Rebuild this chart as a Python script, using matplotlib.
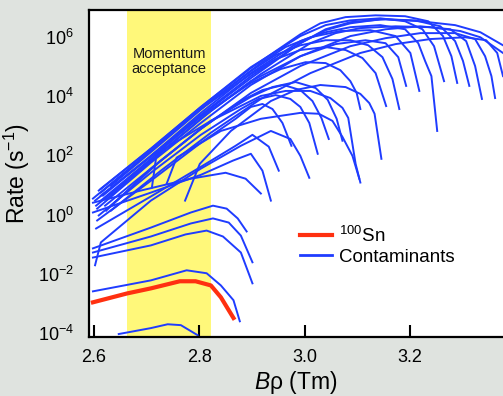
import numpy as np
import matplotlib
matplotlib.use('Agg')
import matplotlib.pyplot as plt

params = {
    'font.family': 'Liberation Sans',
    'mathtext.fontset': 'custom',
    'mathtext.rm': 'Liberation Sans',
    'mathtext.it': 'Liberation Sans:italic',
}
matplotlib.rcParams.update(params)

# ----- rate curves: B-rho (Tm) and log10 of rate (1/s) -----
sn100_brho = [2.598, 2.663, 2.708, 2.763, 2.793, 2.822, 2.841, 2.865]
sn100_lograte = [-2.96, -2.66, -2.49, -2.25, -2.25, -2.39, -2.79, -3.49]

contam_brho = [
    [2.647, 2.708, 2.740, 2.765, 2.797],
    [2.598, 2.708, 2.776, 2.814, 2.841, 2.865, 2.877],
    [2.598, 2.708, 2.774, 2.814, 2.845, 2.879, 2.901],
    [2.598, 2.708, 2.784, 2.826, 2.856, 2.879, 2.901],
    [2.598, 2.708, 2.784, 2.826, 2.852, 2.873, 2.890],
    [2.598, 2.689, 2.784, 2.850, 2.888, 2.917],
    [2.598, 2.708, 2.803, 2.864, 2.898, 2.920, 2.936],
    [2.604, 2.708, 2.803, 2.869, 2.901, 2.932, 2.951],
    [2.606, 2.708, 2.803, 2.869, 2.898, 2.920, 2.939, 2.958, 2.975],
    [2.602, 2.613, 2.708, 2.803, 2.879, 2.936, 2.973, 2.992, 3.009],
    [2.609, 2.708, 2.803, 2.879, 2.913, 2.945, 2.973, 2.992, 3.009, 3.025],
    [2.623, 2.708, 2.803, 2.879, 2.920, 2.960, 2.992, 3.015, 3.032, 3.046],
    [2.632, 2.727, 2.822, 2.898, 2.939, 2.983, 3.021, 3.044, 3.061, 3.072],
    [2.738, 2.757, 2.841, 2.917, 2.992, 3.027, 3.053, 3.072, 3.091, 3.104],
    [2.710, 2.719, 2.822, 2.917, 2.964, 3.011, 3.049, 3.072, 3.083, 3.097, 3.106],
    [2.613, 2.708, 2.803, 2.898, 2.955, 3.002, 3.040, 3.068, 3.087, 3.099, 3.106],
    [2.773, 2.801, 2.860, 2.936, 2.983, 3.030, 3.078, 3.106, 3.123, 3.133, 3.146],
    [2.598, 2.708, 2.803, 2.898, 2.945, 2.992, 3.040, 3.078, 3.110, 3.135, 3.155],
    [2.613, 2.708, 2.803, 2.898, 2.945, 2.992, 3.040, 3.087, 3.121, 3.148, 3.167, 3.180],
    [2.604, 2.708, 2.803, 2.898, 2.992, 3.059, 3.116, 3.154, 3.178, 3.193],
    [2.632, 2.727, 2.822, 2.917, 2.964, 3.011, 3.068, 3.125, 3.173, 3.201, 3.218],
    [2.617, 2.708, 2.803, 2.898, 2.992, 3.040, 3.087, 3.144, 3.191, 3.216, 3.229, 3.241, 3.252],
    [2.613, 2.708, 2.803, 2.898, 2.992, 3.040, 3.087, 3.144, 3.191, 3.224, 3.246, 3.265],
    [2.609, 2.708, 2.803, 2.898, 2.992, 3.030, 3.078, 3.135, 3.191, 3.235, 3.263, 3.279, 3.290],
    [2.602, 2.708, 2.803, 2.898, 2.992, 3.040, 3.087, 3.144, 3.210, 3.258, 3.286, 3.301, 3.313],
    [2.606, 2.708, 2.803, 2.898, 2.992, 3.087, 3.154, 3.220, 3.277, 3.307, 3.324, 3.337],
    [2.621, 2.708, 2.803, 2.898, 2.992, 3.087, 3.154, 3.220, 3.286, 3.324, 3.343, 3.355, 3.362],
    [2.632, 2.727, 2.822, 2.917, 3.011, 3.106, 3.173, 3.239, 3.305, 3.345, 3.366, 3.377],
    [2.613, 2.708, 2.803, 2.898, 2.992, 3.040, 3.087, 3.154, 3.220, 3.286, 3.334, 3.377],
    [2.625, 2.727, 2.822, 2.917, 3.011, 3.059, 3.106, 3.173, 3.239, 3.296, 3.334, 3.377],
]
contam_lograte = [
    [-4.03, -3.83, -3.70, -3.73, -4.07],
    [-2.59, -2.22, -1.88, -1.98, -2.39, -2.89, -3.60],
    [-1.45, -1.04, -0.67, -0.54, -0.74, -1.28, -2.32],
    [-1.28, -0.74, -0.30, -0.13, -0.27, -0.71, -1.61],
    [-1.14, -0.44, 0.07, 0.30, 0.20, -0.13, -0.57],
    [0.40, 0.81, 1.21, 1.41, 1.21, 0.71],
    [0.07, 0.74, 1.34, 1.82, 2.05, 1.48, 0.47],
    [-0.47, 0.61, 1.61, 2.32, 2.69, 2.29, 1.48],
    [-0.20, 1.14, 2.42, 3.23, 3.63, 3.73, 3.56, 3.09, 2.32],
    [-1.71, -0.94, 0.47, 1.55, 2.32, 2.82, 2.55, 1.98, 1.24],
    [-0.03, 1.41, 2.69, 3.56, 3.90, 4.03, 3.90, 3.63, 3.09, 2.05],
    [0.13, 1.55, 2.89, 3.83, 4.20, 4.37, 4.20, 3.83, 3.26, 2.55],
    [0.30, 1.82, 3.16, 3.97, 4.30, 4.47, 4.27, 3.87, 3.23, 2.49],
    [1.04, 1.92, 2.82, 3.23, 3.43, 3.40, 3.16, 2.62, 1.98, 1.21],
    [0.91, 2.05, 3.16, 4.00, 4.17, 4.17, 3.93, 3.60, 3.26, 1.71, 1.08],
    [0.64, 1.95, 3.30, 4.44, 4.91, 5.14, 5.11, 4.87, 4.50, 4.10, 3.56],
    [0.47, 1.71, 2.82, 3.83, 4.20, 4.37, 4.30, 4.07, 3.76, 3.40, 1.88],
    [0.54, 2.15, 3.56, 4.74, 5.24, 5.55, 5.65, 5.55, 5.28, 4.77, 3.66],
    [0.74, 2.15, 3.56, 4.84, 5.38, 5.71, 5.88, 5.88, 5.71, 5.31, 4.57, 3.56],
    [0.30, 1.82, 3.23, 4.50, 5.34, 5.75, 5.88, 5.78, 5.31, 4.34],
    [0.97, 2.39, 3.83, 5.11, 5.65, 5.98, 6.19, 6.22, 6.02, 5.45, 4.17],
    [0.64, 1.98, 3.43, 4.77, 5.85, 6.15, 6.32, 6.39, 6.25, 5.78, 5.18, 4.67, 2.82],
    [0.87, 2.22, 3.63, 4.97, 6.02, 6.39, 6.55, 6.62, 6.52, 6.25, 5.68, 4.50],
    [0.81, 2.22, 3.63, 4.94, 6.08, 6.45, 6.66, 6.72, 6.69, 6.52, 6.02, 5.34, 4.44],
    [0.47, 1.98, 3.36, 4.67, 5.78, 6.22, 6.45, 6.59, 6.55, 6.35, 5.85, 5.18, 4.34],
    [0.20, 1.75, 3.09, 4.37, 5.34, 6.02, 6.25, 6.35, 6.25, 5.85, 5.01, 3.90],
    [0.30, 1.55, 2.89, 4.10, 5.01, 5.68, 5.95, 6.12, 6.12, 5.92, 5.34, 4.67, 3.93],
    [0.13, 1.48, 2.76, 3.90, 4.77, 5.45, 5.75, 5.92, 5.98, 5.88, 5.45, 4.67],
    [0.47, 1.88, 3.33, 4.60, 5.78, 6.25, 6.49, 6.59, 6.52, 6.39, 6.15, 5.71],
    [0.54, 2.08, 3.50, 4.74, 5.78, 6.12, 6.29, 6.35, 6.32, 6.19, 5.98, 5.45],
]

acceptance = (2.663, 2.822)
xticks = [2.6, 2.8, 3.0, 3.2]
yticks = [1e-4, 1e-2, 1e0, 1e2, 1e4, 1e6]

bgcolor = '#dfe3df'
blue = '#1f3cff'
red = '#ff3010'

fig = plt.figure(figsize=(5.03, 3.96), dpi=100, facecolor=bgcolor)
ax = fig.add_axes([89/503, 59/396, 414/503, 327/396])

ax.axvspan(*acceptance, color='#fff87a', lw=0, zorder=0)
ax.text(np.mean(acceptance), 0.843, 'Momentum\nacceptance', transform=ax.get_xaxis_transform(),
        ha='center', va='center', fontsize=10.5, color='#1a1a1a', linespacing=1.1)

for bx, lr in zip(contam_brho, contam_lograte):
    ax.plot(bx, 10**np.array(lr), color=blue, lw=1.4, solid_joinstyle='round', zorder=2)
ax.plot(sn100_brho, 10**np.array(sn100_lograte), color=red, lw=3.0,
        solid_joinstyle='round', zorder=3)

h_sn, = ax.plot([], [], color=red, lw=3.0)
h_ct, = ax.plot([], [], color=blue, lw=2.0)
ax.legend([h_sn, h_ct], ['$^{100}$Sn', 'Contaminants'], loc='upper left',
          bbox_to_anchor=(0.51, 0.34), frameon=False, fontsize=13.5,
          handlelength=1.7, handletextpad=0.35, labelspacing=0.15,
          borderpad=0, borderaxespad=0)

ax.set_yscale('log')
ax.set_xlim(2.5905, 3.377)
ax.set_ylim(10**-4.13, 10**6.9)
ax.set_xticks(xticks)
ax.set_xticklabels([f"{t:.1f}" for t in xticks])
ax.set_yticks(yticks)
ax.minorticks_off()
ax.tick_params(axis='x', direction='in', length=9, width=1.5, labelsize=13, pad=9)
ax.tick_params(axis='y', length=0, labelsize=13, pad=11)

for side in ['left', 'bottom', 'top']:
    ax.spines[side].set_linewidth(1.6)
ax.spines['right'].set_visible(False)

ax.set_xlabel(r'$\mathit{B}$ρ (Tm)', fontsize=16.5, labelpad=2)
ax.set_ylabel('Rate (s$^{-1}$)', fontsize=16.5, labelpad=4)

fig.savefig('out.png', dpi=100, facecolor=bgcolor)
